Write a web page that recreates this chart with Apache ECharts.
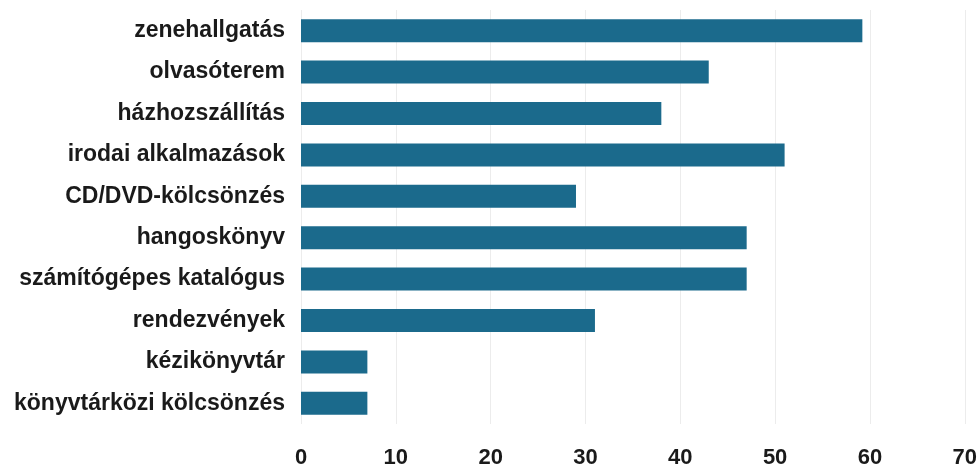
<!DOCTYPE html>
<html>
<head>
<meta charset="utf-8">
<script src="https://cdn.jsdelivr.net/npm/echarts@6/dist/echarts.min.js"></script>
<style>
html,body{margin:0;padding:0;background:#fff;}
#chart{width:980px;height:475px;}
</style>
</head>
<body>
<div id="chart"></div>
<script>
const categories = [
  "zenehallgatás",
  "olvasóterem",
  "házhozszállítás",
  "irodai alkalmazások",
  "CD/DVD-kölcsönzés",
  "hangoskönyv",
  "számítógépes katalógus",
  "rendezvények",
  "kézikönyvtár",
  "könyvtárközi kölcsönzés"
];
const values = [59.2, 43, 38, 51, 29, 47, 47, 31, 7, 7];
const xTicks = [0, 10, 20, 30, 40, 50, 60, 70];

const chart = echarts.init(document.getElementById('chart'), null, {renderer: 'canvas'});
chart.setOption({
  animation: false,
  backgroundColor: '#ffffff',
  grid: {left: 301, right: 15, top: 10, bottom: 51, containLabel: false},
  xAxis: {
    type: 'value',
    min: xTicks[0],
    max: xTicks[xTicks.length - 1],
    interval: 10,
    axisLine: {show: false},
    axisTick: {show: false},
    axisLabel: {
      margin: 23,
      color: '#1a1a1a',
      fontFamily: 'Liberation Sans',
      fontWeight: 'bold',
      fontSize: 22
    },
    splitLine: {show: true, lineStyle: {color: '#ececec', width: 1}}
  },
  yAxis: {
    type: 'category',
    data: categories,
    inverse: true,
    axisLine: {show: false},
    axisTick: {show: false},
    axisLabel: {
      margin: 16,
      color: '#1a1a1a',
      fontFamily: 'Liberation Sans',
      fontWeight: 'bold',
      fontSize: 23
    },
    splitLine: {show: false}
  },
  series: [{
    type: 'bar',
    data: values,
    barWidth: 23,
    itemStyle: {color: '#1b6a8c'}
  }]
});
</script>
</body>
</html>
